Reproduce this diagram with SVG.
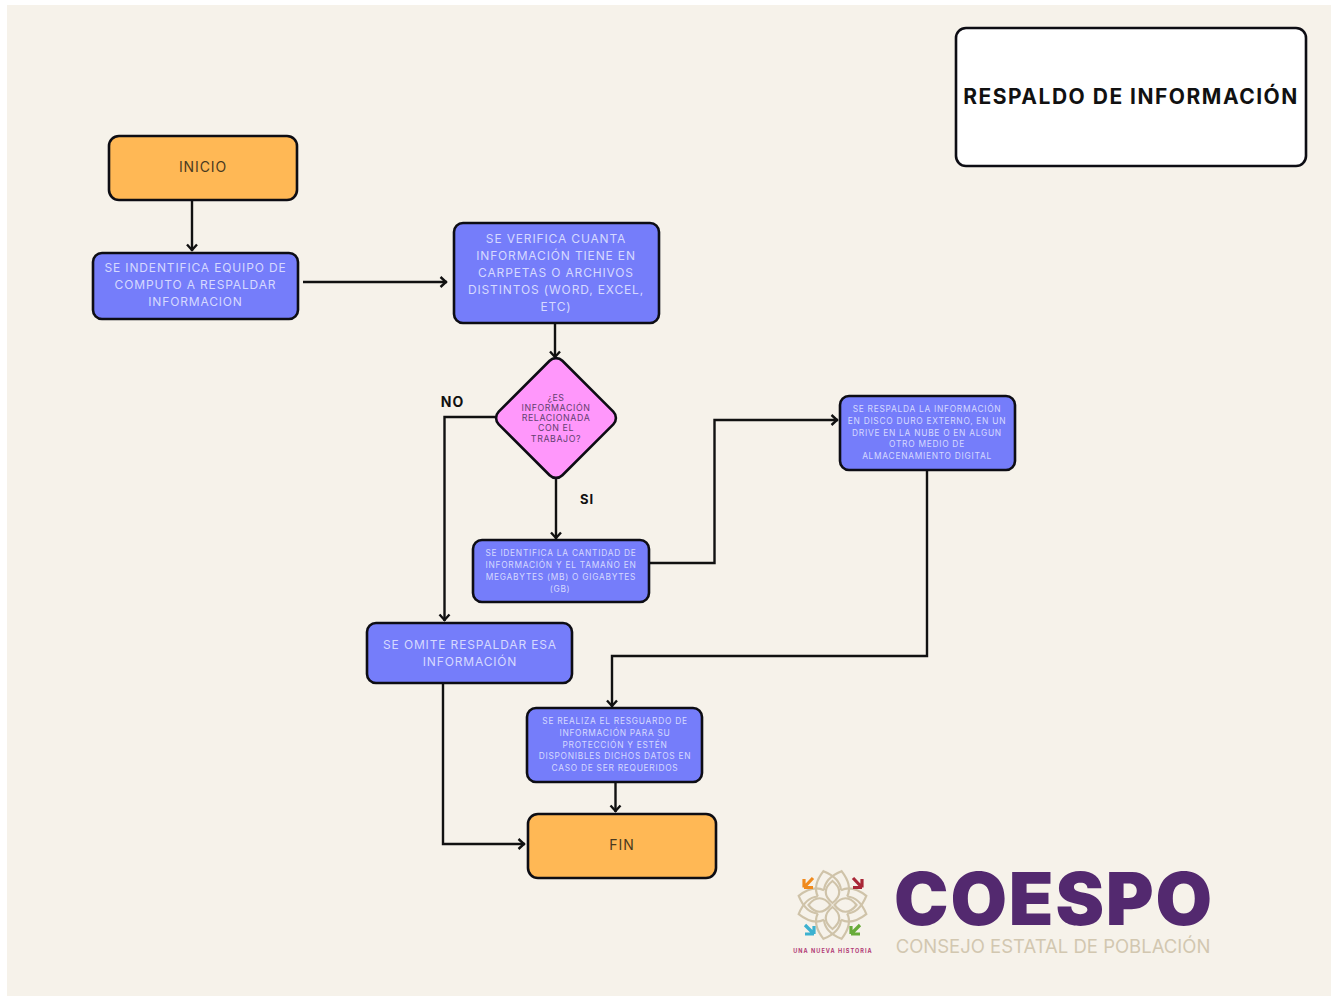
<svg xmlns="http://www.w3.org/2000/svg" width="1338" height="998" viewBox="0 0 1338 998">
<style>
.box{stroke:#0d0d14;stroke-width:2.6}
.blue{fill:#757dfa}
.orange{fill:#ffb855}
.pink{fill:#ff97fb}
text{font-family:"Inter","Liberation Sans",sans-serif;text-anchor:middle}
.t{fill:#d6d9ff}
.l{font-size:12px;letter-spacing:.85px}
.s{font-size:8.400px;letter-spacing:.72px}
.d{font-size:8.800px;letter-spacing:.6px;fill:#63406f}
.o{font-size:14px;letter-spacing:.9px;fill:#4a3a20}
.b{font-weight:700;fill:#111}
.c{fill:none;stroke:#111;stroke-width:2.4}
.petal{fill:none;stroke:#cfc3a9;stroke-width:2.2}
</style>
<defs>
<marker id="a" markerUnits="userSpaceOnUse" markerWidth="13" markerHeight="14" refX="10.500" refY="7" orient="auto"><path d="M4 2L9.500 7L4 12" fill="none" stroke="#111" stroke-width="2.4"/></marker>
<path id="pt" d="M-12 -12C-14 -22 -8 -29 0 -35C8 -29 14 -22 12 -12"/>
<path id="ip" d="M0 -2C-9 -9 -9 -17 0 -24C9 -17 9 -9 0 -2Z"/>
</defs>
<rect width="1338" height="998" fill="#fff"/>
<rect x="7" y="5" width="1324" height="991" fill="#f6f2ea"/>

<g id="connectors">
<path class="c" marker-end="url(#a)" d="M192 200V251"/>
<path class="c" marker-end="url(#a)" d="M303 282H447"/>
<path class="c" marker-end="url(#a)" d="M555 323V358"/>
<path class="c" marker-end="url(#a)" d="M496 417H444.500V621"/>
<path class="c" marker-end="url(#a)" d="M556 478V539"/>
<path class="c" marker-end="url(#a)" d="M649 563H714.500V420H838"/>
<path class="c" marker-end="url(#a)" d="M927 470V656H612V707"/>
<path class="c" marker-end="url(#a)" d="M443 683V844H525"/>
<path class="c" marker-end="url(#a)" d="M615.500 781V812"/>
</g>

<g id="titulo"><rect class="box" x="956" y="28" width="350" height="138" rx="10" fill="#fff"/>
<text x="1131" y="104" class="b" style="font-size:21px;letter-spacing:1.500px">RESPALDO DE INFORMACIÓN</text></g>

<g id="inicio"><rect class="box orange" x="109" y="136" width="188" height="64" rx="10"/>
<text class="o" x="203" y="171.500">INICIO</text></g>

<g id="identifica-equipo"><rect class="box blue" x="93" y="253" width="205" height="66" rx="9"/>
<text class="t l"><tspan x="195.500" y="271.500">SE INDENTIFICA EQUIPO DE</tspan><tspan x="195.500" y="288.500">COMPUTO A RESPALDAR</tspan><tspan x="195.500" y="305.500">INFORMACION</tspan></text></g>

<g id="verifica"><rect class="box blue" x="454" y="223" width="205" height="100" rx="9"/>
<text class="t l"><tspan x="556" y="243">SE VERIFICA CUANTA</tspan><tspan x="556" y="260">INFORMACIÓN TIENE EN</tspan><tspan x="556" y="277">CARPETAS O ARCHIVOS</tspan><tspan x="556" y="294">DISTINTOS (WORD, EXCEL,</tspan><tspan x="556" y="311">ETC)</tspan></text></g>

<g id="decision"><rect class="box pink" x="511" y="373" width="90" height="90" rx="9" transform="rotate(45 556 418)"/>
<text class="d"><tspan x="556" y="400.500">¿ES</tspan><tspan x="556" y="410.700">INFORMACIÓN</tspan><tspan x="556" y="421">RELACIONADA</tspan><tspan x="556" y="431.300">CON EL</tspan><tspan x="556" y="441.500">TRABAJO?</tspan></text></g>

<text x="452.500" y="406.500" class="b" style="font-size:14px;letter-spacing:.9px">NO</text>
<text x="587" y="504" class="b" style="font-size:13px;letter-spacing:.8px">SI</text>

<g id="identifica-cantidad"><rect class="box blue" x="473" y="540" width="176" height="62" rx="9"/>
<text class="t s"><tspan x="561" y="556">SE IDENTIFICA LA CANTIDAD DE</tspan><tspan x="561" y="568">INFORMACIÓN Y EL TAMAÑO EN</tspan><tspan x="561" y="580">MEGABYTES (MB) O GIGABYTES</tspan><tspan x="560" y="591.500">(GB)</tspan></text></g>

<g id="respalda"><rect class="box blue" x="840" y="396" width="175" height="74" rx="9"/>
<text class="t s"><tspan x="927" y="412">SE RESPALDA LA INFORMACIÓN</tspan><tspan x="927" y="424">EN DISCO DURO EXTERNO, EN UN</tspan><tspan x="927" y="435.500">DRIVE EN LA NUBE O EN ALGUN</tspan><tspan x="927" y="447">OTRO MEDIO DE</tspan><tspan x="927" y="459">ALMACENAMIENTO DIGITAL</tspan></text></g>

<g id="omite"><rect class="box blue" x="367" y="623" width="205" height="60" rx="9"/>
<text class="t l"><tspan x="470" y="648.500">SE OMITE RESPALDAR ESA</tspan><tspan x="470" y="665.500">INFORMACIÓN</tspan></text></g>

<g id="resguardo"><rect class="box blue" x="527" y="708" width="175" height="74" rx="9"/>
<text class="t s"><tspan x="615" y="724">SE REALIZA EL RESGUARDO DE</tspan><tspan x="615" y="736">INFORMACIÓN PARA SU</tspan><tspan x="615" y="747.500">PROTECCIÓN Y ESTÉN</tspan><tspan x="615" y="759">DISPONIBLES DICHOS DATOS EN</tspan><tspan x="615" y="771">CASO DE SER REQUERIDOS</tspan></text></g>

<g id="fin"><rect class="box orange" x="528" y="814" width="188" height="64" rx="10"/>
<text class="o" x="622" y="849.500">FIN</text></g>

<g id="logo">
<g transform="translate(832.500 905)" class="petal">
<use href="#ip"/><use href="#ip" transform="rotate(90)"/><use href="#ip" transform="rotate(180)"/><use href="#ip" transform="rotate(270)"/>
<use href="#pt" transform="rotate(15)"/><use href="#pt" transform="rotate(-15)"/><use href="#pt" transform="rotate(75)"/><use href="#pt" transform="rotate(105)"/><use href="#pt" transform="rotate(165)"/><use href="#pt" transform="rotate(195)"/><use href="#pt" transform="rotate(255)"/><use href="#pt" transform="rotate(285)"/>
</g>
<path d="M804 887.500L813 878M804 887.500V879M804 887.500H813" stroke="#f08a1d" stroke-width="3.200" fill="none"/>
<path d="M862 887.500L853 878M862 887.500V879M862 887.500H853" stroke="#a92737" stroke-width="3.200" fill="none"/>
<path d="M814 934L805 925M814 934V926M814 934H805" stroke="#3cb1d0" stroke-width="3.200" fill="none"/>
<path d="M851 934L860 925M851 934V926M851 934H860" stroke="#69ac3a" stroke-width="3.200" fill="none"/>
<text x="833" y="952.500" style="font-size:5.500px;font-weight:700;letter-spacing:1.050px;fill:#b13a76">UNA NUEVA HISTORIA</text>
<text x="1054" y="925" style="font-size:73px;font-weight:900;letter-spacing:1.800px;fill:#53296f">COESPO</text>
<text x="1053" y="953" style="font-size:18.500px;font-weight:400;fill:#d2c7b0">CONSEJO ESTATAL DE POBLACIÓN</text>
</g>
</svg>
